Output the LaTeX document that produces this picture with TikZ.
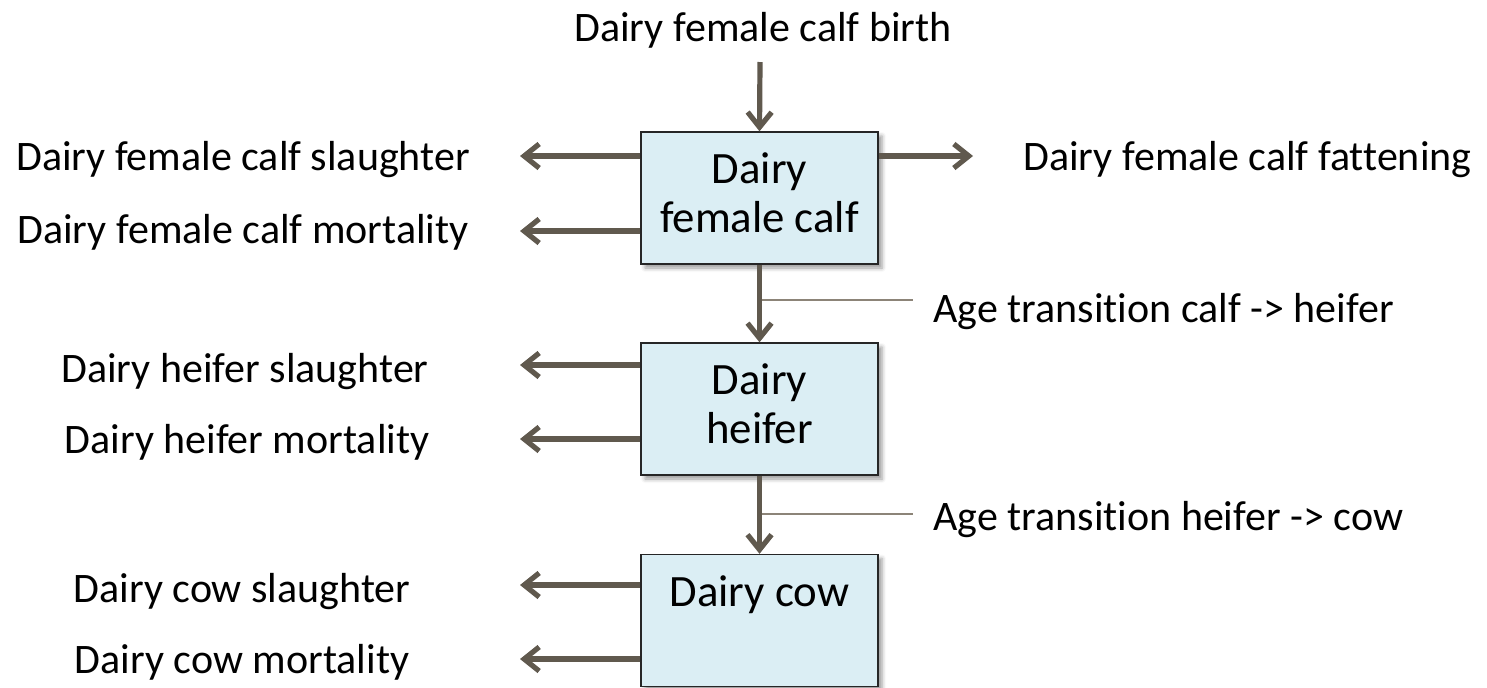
\documentclass[tikz,border=0pt]{standalone}
\usepackage{fontspec}
\setmainfont{Carlito}[RawFeature={-liga;-clig;-dlig;-calt}]
\usetikzlibrary{arrows.meta,shadows.blur}

\definecolor{flowcol}{RGB}{96,89,78}
\definecolor{tickcol}{RGB}{140,132,120}
\definecolor{boxfill}{RGB}{219,238,244}

\tikzset{
  unitbox/.style={draw=black!85, line width=0.7pt, fill=boxfill,
    minimum width=118.5pt, minimum height=66pt, inner sep=0pt,
    blur shadow={shadow xshift=2pt, shadow yshift=-2pt, shadow blur radius=2pt}},
  boxtxt/.style={anchor=north, inner sep=0pt, align=center, yshift=-10.6pt,
    font=\fontsize{22.4}{24.5}\selectfont},
  lbl/.style={inner sep=0pt, anchor=base},
  flow/.style={draw=flowcol, line width=2.6pt, -{Straight Barb[length=7.5pt,width=12pt]}},
  tick/.style={draw=tickcol, line width=0.8pt}
}

\begin{document}
\begin{tikzpicture}[x=0.5pt, y=-0.5pt, font=\fontsize{21}{24.5}\selectfont]%dairy female herd flows
\useasboundingbox (0,0) rectangle (1487,687);
% the three age classes
\node[unitbox] (calf) at (759.5,198) {};
\node[boxtxt] (calf-txt) at (calf.north) {Dairy\\female calf};
\node[unitbox] (heifer) at (759.5,409) {};
\node[boxtxt] (heifer-txt) at (heifer.north) {Dairy\\heifer};
\node[unitbox] (cow) at (759.5,620.5) {};
\node[boxtxt] (cow-txt) at (cow.north) {Dairy cow};
% labels
\node[lbl] (birth) at (763,41) {Dairy female calf birth};
\node[lbl] (cslaught) at (243,170) {Dairy female calf slaughter};
\node[lbl] (cmort) at (243,243) {Dairy female calf mortality};
\node[lbl, anchor=base west] (cfatt) at (1023,170) {Dairy female calf fattening};
\node[lbl, anchor=base west] (agecalf) at (933,322) {Age transition calf -> heifer};
\node[lbl] (hslaught) at (245,382) {Dairy heifer slaughter};
\node[lbl] (hmort) at (247,453) {Dairy heifer mortality};
\node[lbl, anchor=base west] (ageheifer) at (933,530) {Age transition heifer -> cow};
\node[lbl] (wslaught) at (242,602) {Dairy cow slaughter};
\node[lbl] (wmort) at (242,673) {Dairy cow mortality};
% free ends
\coordinate (birthtop) at (760,62);
\coordinate (c1) at (520,156);
\coordinate (c2) at (520,231);
\coordinate (c3) at (973,156);
\coordinate (h1) at (520,365);
\coordinate (h2) at (520,439);
\coordinate (w1) at (520,585);
\coordinate (w2) at (520,659);
\coordinate (t1) at (913,300);
\coordinate (t2) at (913,514);
% transitions
\draw[tick] (calf.south |- t1) -- (t1);
\draw[tick] (heifer.south |- t2) -- (t2);
\draw[flow] (birthtop) -- (calf.north);
\draw[flow] (calf.south) -- (heifer.north);
\draw[flow] (heifer.south) -- (cow.north);
% outflows
\draw[flow] (calf.west |- c1) -- (c1);
\draw[flow] (calf.west |- c2) -- (c2);
\draw[flow] (calf.east |- c3) -- (c3);
\draw[flow] (heifer.west |- h1) -- (h1);
\draw[flow] (heifer.west |- h2) -- (h2);
\draw[flow] (cow.west |- w1) -- (w1);
\draw[flow] (cow.west |- w2) -- (w2);
\end{tikzpicture}
\end{document}
